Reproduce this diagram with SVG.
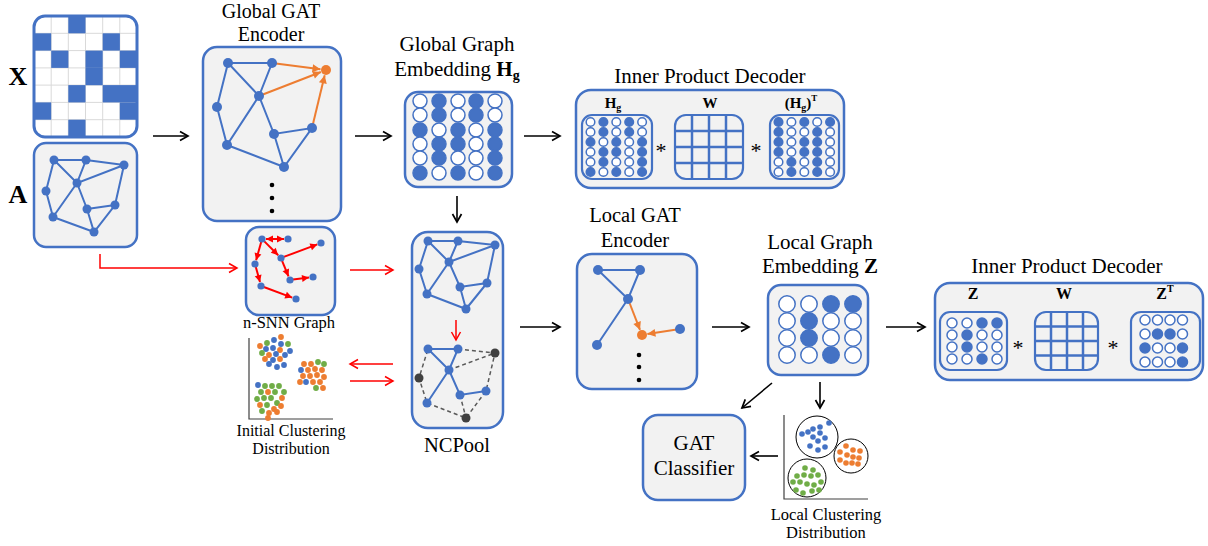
<svg xmlns="http://www.w3.org/2000/svg" width="1208" height="546" viewBox="0 0 1208 546">
<style>
.box{fill:#f2f2f2;stroke:#4472c4;stroke-width:2.5}
.sub{fill:#f2f2f2;stroke:#4472c4;stroke-width:2.2}
.ed{stroke:#4472c4;stroke-width:2;fill:none}
.nd{fill:#4472c4}
.on{fill:#ed7d31}
.oe{stroke:#ed7d31;stroke-width:2;fill:none;marker-end:url(#ao)}
.gd{stroke:#595959;stroke-width:1.5;stroke-dasharray:4 3;fill:none}
.gn{fill:#404040}
.re{stroke:#ff0000;stroke-width:2;fill:none;marker-end:url(#ar)}
.rc{stroke:#ff0000;stroke-width:1.5;fill:none;marker-end:url(#arc)}
.bk{stroke:#000;stroke-width:1.6;fill:none;marker-end:url(#ab)}
.e{fill:#fff;stroke:#4472c4;stroke-width:1.5}
.f{fill:#4472c4;stroke:#4472c4;stroke-width:1.5}
.t{font-family:'Liberation Serif','Times New Roman',serif;fill:#000;text-anchor:middle}
.tb{font-family:'Liberation Serif','Times New Roman',serif;font-weight:bold;fill:#000;text-anchor:middle}
.b{fill:#4472c4}.o{fill:#ed7d31}.g{fill:#70ad47}
.cl{fill:none;stroke:#000;stroke-width:1}
.ax{stroke:#404040;stroke-width:1.2;fill:none}
.grid{stroke:#4472c4;stroke-width:2.5}
</style>
<defs>
<marker id="ab" markerUnits="userSpaceOnUse" markerWidth="12" markerHeight="12" refX="9" refY="5" orient="auto" overflow="visible"><path d="M1,0.5 L9,5 L1,9.5" fill="none" stroke="#000" stroke-width="1.7"/></marker>
<marker id="arc" markerUnits="userSpaceOnUse" markerWidth="12" markerHeight="12" refX="9" refY="5" orient="auto" overflow="visible"><path d="M1,0.5 L9,5 L1,9.5" fill="none" stroke="#ff0000" stroke-width="1.5"/></marker>
<marker id="ar" markerUnits="userSpaceOnUse" markerWidth="8" markerHeight="8" refX="7" refY="3.5" orient="auto-start-reverse" overflow="visible"><path d="M0,0 L7,3.5 L0,7 z" fill="#ff0000"/></marker>
<marker id="ao" markerUnits="userSpaceOnUse" markerWidth="10" markerHeight="10" refX="8" refY="4" orient="auto" overflow="visible"><path d="M0,0 L8,4 L0,8 z" fill="#ed7d31"/></marker>
<clipPath id="xclip"><rect x="34" y="16" width="103" height="121" rx="11"/></clipPath>
</defs>

<g id="connectors">
<line class="bk" x1="153" y1="136" x2="188" y2="136"/>
<line class="bk" x1="355" y1="136" x2="391" y2="136"/>
<line class="bk" x1="524" y1="136" x2="560" y2="136"/>
<line class="bk" x1="457" y1="196" x2="457" y2="222"/>
<path class="rc" d="M100,254 V268 H237"/>
<line class="rc" x1="350" y1="270" x2="393" y2="270"/>
<line class="rc" x1="393" y1="364" x2="350" y2="364"/>
<line class="rc" x1="350" y1="381" x2="393" y2="381"/>
<line class="bk" x1="520" y1="327" x2="560" y2="327"/>
<line class="bk" x1="712" y1="327" x2="749" y2="327"/>
<line class="bk" x1="886" y1="327" x2="925" y2="327"/>
<line class="bk" x1="772" y1="383" x2="742" y2="408"/>
<line class="bk" x1="820" y1="382" x2="820" y2="408"/>
<line class="bk" x1="778" y1="456" x2="751" y2="456"/>
</g>

<g id="X">
<text class="tb" x="18" y="85" font-size="26">X</text>
<g clip-path="url(#xclip)">
<rect x="34" y="16" width="103" height="121" fill="#fff"/>
<g stroke="#d9d9d9" stroke-width="1">
<line x1="51.2" y1="16" x2="51.2" y2="137"/><line x1="68.3" y1="16" x2="68.3" y2="137"/><line x1="85.5" y1="16" x2="85.5" y2="137"/><line x1="102.7" y1="16" x2="102.7" y2="137"/><line x1="119.8" y1="16" x2="119.8" y2="137"/>
<line x1="34" y1="33.3" x2="137" y2="33.3"/><line x1="34" y1="50.6" x2="137" y2="50.6"/><line x1="34" y1="67.9" x2="137" y2="67.9"/><line x1="34" y1="85.1" x2="137" y2="85.1"/><line x1="34" y1="102.4" x2="137" y2="102.4"/><line x1="34" y1="119.7" x2="137" y2="119.7"/>
</g>
<g fill="#4472c4">
<rect x="68.3" y="16" width="17.2" height="17.3"/>
<rect x="34" y="33.3" width="17.2" height="17.3"/><rect x="102.7" y="33.3" width="17.2" height="17.3"/>
<rect x="51.2" y="50.6" width="17.2" height="17.3"/><rect x="85.5" y="50.6" width="17.2" height="17.3"/><rect x="119.8" y="50.6" width="17.2" height="17.3"/>
<rect x="85.5" y="67.9" width="17.2" height="17.3"/>
<rect x="68.3" y="85.1" width="17.2" height="17.3"/><rect x="102.7" y="85.1" width="34.3" height="17.3"/>
<rect x="34" y="102.4" width="17.2" height="17.3"/><rect x="119.8" y="102.4" width="17.2" height="17.3"/>
<rect x="68.3" y="119.7" width="17.2" height="17.3"/>
</g>
</g>
<rect x="34" y="16" width="103" height="121" rx="11" fill="none" stroke="#4472c4" stroke-width="3"/>
</g>

<g id="A">
<text class="tb" x="18" y="203" font-size="26">A</text>
<rect class="box" x="34" y="143" width="103" height="104" rx="12"/>
<path class="ed" d="M54,160 L86,160 L77,183 Z M54,160 L46,191 L53,217 L77,183 L124,165 L86,160 M124,165 L115,205 L94,232 L87,209 L77,183 M87,209 L115,205 M53,217 L94,232"/>
<g class="nd"><circle cx="54" cy="160" r="4.5"/><circle cx="86" cy="160" r="4.5"/><circle cx="124" cy="165" r="4.5"/><circle cx="77" cy="183" r="4.5"/><circle cx="46" cy="191" r="4.5"/><circle cx="115" cy="205" r="4.5"/><circle cx="87" cy="209" r="4.5"/><circle cx="53" cy="217" r="4.5"/><circle cx="94" cy="232" r="4.5"/></g>
</g>

<g id="global-gat">
<text class="t" x="271" y="18" font-size="20">Global GAT</text>
<text class="t" x="271" y="41" font-size="20">Encoder</text>
<rect class="box" x="203" y="47" width="138" height="174" rx="14"/>
<path class="ed" d="M228,63 L272,63 L259,96 Z M228,63 L217,107 L227,145 L259,96 L274,134 L312,128 L284,167 L227,145 M274,134 L284,167"/>
<line class="oe" x1="272" y1="63" x2="320.5" y2="69.3"/>
<line class="oe" x1="259" y1="96" x2="320.9" y2="72"/>
<line class="oe" x1="312" y1="128" x2="324.7" y2="75.3"/>
<g class="nd"><circle cx="228" cy="63" r="5"/><circle cx="272" cy="63" r="5"/><circle cx="259" cy="96" r="5"/><circle cx="217" cy="107" r="5"/><circle cx="312" cy="128" r="5"/><circle cx="274" cy="134" r="5"/><circle cx="227" cy="145" r="5"/><circle cx="284" cy="167" r="5"/></g>
<circle class="on" cx="326" cy="70" r="5"/>
<g fill="#000"><circle cx="272" cy="185" r="2.3"/><circle cx="272" cy="198" r="2.3"/><circle cx="272" cy="211" r="2.3"/></g>
</g>

<g id="global-embedding">
<text class="t" x="457" y="51" font-size="21">Global Graph</text>
<text class="t" x="457" y="76" font-size="21">Embedding <tspan font-weight="bold">H</tspan><tspan font-weight="bold" font-size="14" dy="4">g</tspan></text>
<rect class="box" x="405" y="92" width="107" height="95" rx="13"/>
<g>
<circle class="e" cx="420" cy="101" r="7"/><circle class="f" cx="439" cy="101" r="7"/><circle class="e" cx="458" cy="101" r="7"/><circle class="f" cx="476" cy="101" r="7"/><circle class="e" cx="495" cy="101" r="7"/>
<circle class="e" cx="420" cy="115" r="7"/><circle class="f" cx="439" cy="115" r="7"/><circle class="e" cx="458" cy="115" r="7"/><circle class="f" cx="476" cy="115" r="7"/><circle class="e" cx="495" cy="115" r="7"/>
<circle class="f" cx="420" cy="130" r="7"/><circle class="e" cx="439" cy="130" r="7"/><circle class="f" cx="458" cy="130" r="7"/><circle class="e" cx="476" cy="130" r="7"/><circle class="f" cx="495" cy="130" r="7"/>
<circle class="e" cx="420" cy="144" r="7"/><circle class="f" cx="439" cy="144" r="7"/><circle class="f" cx="458" cy="144" r="7"/><circle class="e" cx="476" cy="144" r="7"/><circle class="f" cx="495" cy="144" r="7"/>
<circle class="e" cx="420" cy="158" r="7"/><circle class="f" cx="439" cy="158" r="7"/><circle class="e" cx="458" cy="158" r="7"/><circle class="e" cx="476" cy="158" r="7"/><circle class="f" cx="495" cy="158" r="7"/>
<circle class="f" cx="420" cy="173" r="7"/><circle class="e" cx="439" cy="173" r="7"/><circle class="f" cx="458" cy="173" r="7"/><circle class="e" cx="476" cy="173" r="7"/><circle class="f" cx="495" cy="173" r="7"/>
</g>
</g>

<g id="decoder-top">
<text class="t" x="710" y="83" font-size="21">Inner Product Decoder</text>
<rect class="box" x="576" y="90" width="268" height="98" rx="15"/>
<text class="tb" x="613" y="108" font-size="15">H<tspan font-size="10" dy="3">g</tspan></text>
<text class="tb" x="710" y="108" font-size="15">W</text>
<text class="tb" x="801" y="108" font-size="15">(H<tspan font-size="10" dy="3">g</tspan><tspan dy="-3">)</tspan><tspan font-size="9" dy="-7">T</tspan></text>
<rect class="sub" x="582" y="115" width="70" height="64" rx="10"/>
<g>
<circle class="e" cx="590.5" cy="122" r="4.3"/><circle class="f" cx="603.4" cy="122" r="4.3"/><circle class="e" cx="616.3" cy="122" r="4.3"/><circle class="f" cx="629.2" cy="122" r="4.3"/><circle class="e" cx="642.1" cy="122" r="4.3"/>
<circle class="e" cx="590.5" cy="132" r="4.3"/><circle class="f" cx="603.4" cy="132" r="4.3"/><circle class="e" cx="616.3" cy="132" r="4.3"/><circle class="f" cx="629.2" cy="132" r="4.3"/><circle class="e" cx="642.1" cy="132" r="4.3"/>
<circle class="f" cx="590.5" cy="142" r="4.3"/><circle class="e" cx="603.4" cy="142" r="4.3"/><circle class="f" cx="616.3" cy="142" r="4.3"/><circle class="e" cx="629.2" cy="142" r="4.3"/><circle class="f" cx="642.1" cy="142" r="4.3"/>
<circle class="e" cx="590.5" cy="152" r="4.3"/><circle class="f" cx="603.4" cy="152" r="4.3"/><circle class="f" cx="616.3" cy="152" r="4.3"/><circle class="e" cx="629.2" cy="152" r="4.3"/><circle class="f" cx="642.1" cy="152" r="4.3"/>
<circle class="e" cx="590.5" cy="162" r="4.3"/><circle class="f" cx="603.4" cy="162" r="4.3"/><circle class="e" cx="616.3" cy="162" r="4.3"/><circle class="e" cx="629.2" cy="162" r="4.3"/><circle class="f" cx="642.1" cy="162" r="4.3"/>
<circle class="f" cx="590.5" cy="172" r="4.3"/><circle class="e" cx="603.4" cy="172" r="4.3"/><circle class="f" cx="616.3" cy="172" r="4.3"/><circle class="e" cx="629.2" cy="172" r="4.3"/><circle class="f" cx="642.1" cy="172" r="4.3"/>
</g>
<text class="t" x="661" y="158" font-size="22">*</text>
<rect class="sub" x="675" y="115" width="68" height="64" rx="11"/>
<g class="grid"><line x1="692" y1="115" x2="692" y2="179"/><line x1="709" y1="115" x2="709" y2="179"/><line x1="726" y1="115" x2="726" y2="179"/><line x1="675" y1="131" x2="743" y2="131"/><line x1="675" y1="147" x2="743" y2="147"/><line x1="675" y1="163" x2="743" y2="163"/></g>
<text class="t" x="756" y="158" font-size="22">*</text>
<rect class="sub" x="770" y="115" width="69" height="64" rx="10"/>
<g>
<circle class="f" cx="778.5" cy="122" r="4.3"/><circle class="e" cx="791.4" cy="122" r="4.3"/><circle class="f" cx="804.3" cy="122" r="4.3"/><circle class="e" cx="817.2" cy="122" r="4.3"/><circle class="f" cx="830.1" cy="122" r="4.3"/>
<circle class="f" cx="778.5" cy="132" r="4.3"/><circle class="e" cx="791.4" cy="132" r="4.3"/><circle class="e" cx="804.3" cy="132" r="4.3"/><circle class="f" cx="817.2" cy="132" r="4.3"/><circle class="e" cx="830.1" cy="132" r="4.3"/>
<circle class="f" cx="778.5" cy="142" r="4.3"/><circle class="e" cx="791.4" cy="142" r="4.3"/><circle class="f" cx="804.3" cy="142" r="4.3"/><circle class="f" cx="817.2" cy="142" r="4.3"/><circle class="e" cx="830.1" cy="142" r="4.3"/>
<circle class="f" cx="778.5" cy="152" r="4.3"/><circle class="e" cx="791.4" cy="152" r="4.3"/><circle class="f" cx="804.3" cy="152" r="4.3"/><circle class="f" cx="817.2" cy="152" r="4.3"/><circle class="e" cx="830.1" cy="152" r="4.3"/>
<circle class="e" cx="778.5" cy="162" r="4.3"/><circle class="f" cx="791.4" cy="162" r="4.3"/><circle class="e" cx="804.3" cy="162" r="4.3"/><circle class="f" cx="817.2" cy="162" r="4.3"/><circle class="e" cx="830.1" cy="162" r="4.3"/>
<circle class="e" cx="778.5" cy="172" r="4.3"/><circle class="f" cx="791.4" cy="172" r="4.3"/><circle class="e" cx="804.3" cy="172" r="4.3"/><circle class="f" cx="817.2" cy="172" r="4.3"/><circle class="e" cx="830.1" cy="172" r="4.3"/>
</g>
</g>

<g id="nsnn">
<rect class="box" x="246" y="227" width="89" height="88" rx="13"/>
<line class="re" marker-start="url(#ar)" x1="266" y1="239" x2="284" y2="239"/>
<line class="re" x1="261.2" y1="241.9" x2="256.1" y2="260.2"/>
<line class="re" x1="264.1" y1="241.1" x2="278.2" y2="255.2"/>
<line class="re" x1="283.8" y1="256.9" x2="317.3" y2="244.4"/>
<line class="re" x1="282.1" y1="260.8" x2="288.5" y2="276.3"/>
<line class="re" x1="293" y1="279.6" x2="309" y2="277.5"/>
<line class="re" x1="255.8" y1="266.9" x2="260" y2="282.1"/>
<line class="re" x1="263.8" y1="287" x2="292.2" y2="297.6"/>
<g class="nd"><circle cx="262" cy="239" r="3.6"/><circle cx="288" cy="239" r="3.6"/><circle cx="321" cy="243" r="3.6"/><circle cx="281" cy="258" r="3.6"/><circle cx="255" cy="264" r="3.6"/><circle cx="290" cy="280" r="3.6"/><circle cx="313" cy="277" r="3.6"/><circle cx="261" cy="286" r="3.6"/><circle cx="296" cy="299" r="3.6"/></g>
<text class="t" x="289" y="328" font-size="16.5">n-SNN Graph</text>
</g>

<g id="initial-clustering">
<path class="ax" d="M249,338 V419 H333"/>
<g>
<circle class="o" cx="281" cy="337" r="2.9"/><circle class="b" cx="274" cy="340" r="2.9"/><circle class="g" cx="267" cy="343" r="2.9"/><circle class="o" cx="260" cy="346" r="2.9"/><circle class="b" cx="281" cy="344" r="2.9"/><circle class="g" cx="288" cy="344" r="2.9"/><circle class="b" cx="266" cy="349" r="2.9"/><circle class="b" cx="273" cy="348" r="2.9"/><circle class="o" cx="280" cy="350" r="2.9"/><circle class="g" cx="262" cy="353" r="2.9"/><circle class="o" cx="269" cy="355" r="2.9"/><circle class="b" cx="276" cy="354" r="2.9"/><circle class="b" cx="285" cy="355" r="2.9"/><circle class="o" cx="265" cy="359" r="2.9"/><circle class="b" cx="273" cy="360" r="2.9"/><circle class="o" cx="280" cy="359" r="2.9"/><circle class="b" cx="269" cy="364" r="2.9"/><circle class="b" cx="277" cy="367" r="2.9"/><circle class="b" cx="284" cy="365" r="2.9"/><circle class="b" cx="290" cy="351" r="2.9"/>
<circle class="o" cx="304" cy="364" r="2.9"/><circle class="o" cx="311" cy="364" r="2.9"/><circle class="g" cx="318" cy="362" r="2.9"/><circle class="g" cx="324" cy="364" r="2.9"/><circle class="b" cx="301" cy="370" r="2.9"/><circle class="o" cx="308" cy="370" r="2.9"/><circle class="o" cx="315" cy="369" r="2.9"/><circle class="o" cx="322" cy="370" r="2.9"/><circle class="o" cx="303" cy="376" r="2.9"/><circle class="o" cx="310" cy="376" r="2.9"/><circle class="o" cx="317" cy="375" r="2.9"/><circle class="o" cx="324" cy="377" r="2.9"/><circle class="b" cx="306" cy="382" r="2.9"/><circle class="o" cx="313" cy="382" r="2.9"/><circle class="o" cx="320" cy="382" r="2.9"/><circle class="o" cx="300" cy="382" r="2.9"/><circle class="g" cx="316" cy="388" r="2.9"/><circle class="o" cx="323" cy="388" r="2.9"/>
<circle class="b" cx="258" cy="385" r="2.9"/><circle class="g" cx="265" cy="386" r="2.9"/><circle class="g" cx="272" cy="386" r="2.9"/><circle class="g" cx="279" cy="386" r="2.9"/><circle class="g" cx="284" cy="392" r="2.9"/><circle class="g" cx="261" cy="392" r="2.9"/><circle class="o" cx="268" cy="392" r="2.9"/><circle class="g" cx="275" cy="392" r="2.9"/><circle class="o" cx="282" cy="398" r="2.9"/><circle class="g" cx="257" cy="399" r="2.9"/><circle class="g" cx="264" cy="398" r="2.9"/><circle class="g" cx="271" cy="398" r="2.9"/><circle class="g" cx="277" cy="403" r="2.9"/><circle class="o" cx="260" cy="405" r="2.9"/><circle class="g" cx="267" cy="405" r="2.9"/><circle class="o" cx="274" cy="409" r="2.9"/><circle class="o" cx="281" cy="406" r="2.9"/><circle class="g" cx="262" cy="411" r="2.9"/><circle class="o" cx="269" cy="413" r="2.9"/><circle class="o" cx="277" cy="412" r="2.9"/><circle class="o" cx="268" cy="418" r="2.9"/>
</g>
<text class="t" x="291" y="436" font-size="16">Initial Clustering</text>
<text class="t" x="291" y="454" font-size="16">Distribution</text>
</g>

<g id="ncpool">
<rect class="box" x="412" y="232" width="91" height="196" rx="16"/>
<path class="ed" d="M428,241 L458,241 L449,262 Z M458,241 L495,245 L449,262 M428,241 L419,269 L427,294 L449,262 L460,287 L487,283 L495,245 M460,287 L466,309 L427,294 M487,283 L466,309"/>
<g class="nd"><circle cx="428" cy="241" r="4.5"/><circle cx="458" cy="241" r="4.5"/><circle cx="495" cy="245" r="4.5"/><circle cx="449" cy="262" r="4.5"/><circle cx="419" cy="269" r="4.5"/><circle cx="487" cy="283" r="4.5"/><circle cx="460" cy="287" r="4.5"/><circle cx="427" cy="294" r="4.5"/><circle cx="466" cy="309" r="4.5"/></g>
<line x1="456" y1="320" x2="456" y2="340" stroke="#ff0000" stroke-width="1.5" marker-end="url(#arc)"/>
<path class="gd" d="M458,349 L495,353 L486,391 L466,418 L427,403 L419,378 L428,349 M449,370 L495,353 M460,395 L466,418"/>
<path class="ed" d="M428,349 L458,349 L449,370 Z M449,370 L427,403 M449,370 L460,395 L486,391"/>
<g class="nd"><circle cx="428" cy="349" r="4.5"/><circle cx="458" cy="349" r="4.5"/><circle cx="449" cy="370" r="4.5"/><circle cx="460" cy="395" r="4.5"/><circle cx="486" cy="391" r="4.5"/><circle cx="427" cy="403" r="4.5"/></g>
<g class="gn"><circle cx="495" cy="353" r="4.5"/><circle cx="419" cy="378" r="4.5"/><circle cx="466" cy="418" r="4.5"/></g>
<text class="t" x="457" y="452" font-size="20.5">NCPool</text>
</g>

<g id="local-gat">
<text class="t" x="635" y="222" font-size="20.5">Local GAT</text>
<text class="t" x="635" y="247" font-size="20.5">Encoder</text>
<rect class="box" x="577" y="254" width="120" height="135" rx="15"/>
<path class="ed" d="M598,270 L640,270 L628,299 Z M628,299 L597,345"/>
<line class="oe" x1="628" y1="299" x2="640" y2="329.9"/>
<line class="oe" x1="680" y1="329" x2="647.4" y2="334.1"/>
<g class="nd"><circle cx="598" cy="270" r="5"/><circle cx="640" cy="270" r="5"/><circle cx="628" cy="299" r="5"/><circle cx="597" cy="345" r="5"/><circle cx="680" cy="329" r="5"/></g>
<circle class="on" cx="642" cy="335" r="5"/>
<g fill="#000"><circle cx="639" cy="355" r="2.3"/><circle cx="639" cy="367" r="2.3"/><circle cx="639" cy="380" r="2.3"/></g>
</g>

<g id="local-embedding">
<text class="t" x="820" y="249" font-size="21">Local Graph</text>
<text class="t" x="820" y="273" font-size="21">Embedding <tspan font-weight="bold">Z</tspan></text>
<rect class="box" x="768" y="285" width="100" height="90" rx="13"/>
<g>
<circle class="e" cx="787" cy="304" r="8.2"/><circle class="e" cx="809" cy="304" r="8.2"/><circle class="f" cx="831" cy="304" r="8.2"/><circle class="f" cx="853" cy="304" r="8.2"/>
<circle class="e" cx="787" cy="321" r="8.2"/><circle class="f" cx="809" cy="321" r="8.2"/><circle class="e" cx="831" cy="321" r="8.2"/><circle class="e" cx="853" cy="321" r="8.2"/>
<circle class="e" cx="787" cy="338" r="8.2"/><circle class="f" cx="809" cy="338" r="8.2"/><circle class="e" cx="831" cy="338" r="8.2"/><circle class="e" cx="853" cy="338" r="8.2"/>
<circle class="e" cx="787" cy="355" r="8.2"/><circle class="e" cx="809" cy="355" r="8.2"/><circle class="f" cx="831" cy="355" r="8.2"/><circle class="e" cx="853" cy="355" r="8.2"/>
</g>
</g>

<g id="decoder-bottom">
<text class="t" x="1067" y="273" font-size="21">Inner Product Decoder</text>
<rect class="box" x="935" y="283" width="268" height="97" rx="15"/>
<text class="tb" x="973" y="299" font-size="16">Z</text>
<text class="tb" x="1064" y="299" font-size="16">W</text>
<text class="tb" x="1165" y="299" font-size="16">Z<tspan font-size="10" dy="-7">T</tspan></text>
<rect class="sub" x="940" y="312" width="67" height="58" rx="10"/>
<g>
<circle class="e" cx="952" cy="323" r="5"/><circle class="e" cx="967" cy="323" r="5"/><circle class="f" cx="982" cy="323" r="5"/><circle class="f" cx="997" cy="323" r="5"/>
<circle class="e" cx="952" cy="335" r="5"/><circle class="f" cx="967" cy="335" r="5"/><circle class="e" cx="982" cy="335" r="5"/><circle class="e" cx="997" cy="335" r="5"/>
<circle class="e" cx="952" cy="347" r="5"/><circle class="f" cx="967" cy="347" r="5"/><circle class="e" cx="982" cy="347" r="5"/><circle class="e" cx="997" cy="347" r="5"/>
<circle class="e" cx="952" cy="359" r="5"/><circle class="e" cx="967" cy="359" r="5"/><circle class="f" cx="982" cy="359" r="5"/><circle class="e" cx="997" cy="359" r="5"/>
</g>
<text class="t" x="1018" y="355" font-size="22">*</text>
<rect class="sub" x="1035" y="312" width="63" height="58" rx="11"/>
<g class="grid"><line x1="1051" y1="312" x2="1051" y2="370"/><line x1="1067" y1="312" x2="1067" y2="370"/><line x1="1083" y1="312" x2="1083" y2="370"/><line x1="1035" y1="326.5" x2="1098" y2="326.5"/><line x1="1035" y1="341" x2="1098" y2="341"/><line x1="1035" y1="355.5" x2="1098" y2="355.5"/></g>
<text class="t" x="1113" y="355" font-size="22">*</text>
<rect class="sub" x="1131" y="312" width="69" height="58" rx="10"/>
<g>
<circle class="e" cx="1145" cy="320" r="5"/><circle class="e" cx="1157.5" cy="320" r="5"/><circle class="e" cx="1170" cy="320" r="5"/><circle class="e" cx="1182.5" cy="320" r="5"/>
<circle class="e" cx="1145" cy="334" r="5"/><circle class="f" cx="1157.5" cy="334" r="5"/><circle class="f" cx="1170" cy="334" r="5"/><circle class="e" cx="1182.5" cy="334" r="5"/>
<circle class="f" cx="1145" cy="348" r="5"/><circle class="e" cx="1157.5" cy="348" r="5"/><circle class="e" cx="1170" cy="348" r="5"/><circle class="f" cx="1182.5" cy="348" r="5"/>
<circle class="e" cx="1145" cy="362" r="5"/><circle class="e" cx="1157.5" cy="362" r="5"/><circle class="e" cx="1170" cy="362" r="5"/><circle class="f" cx="1182.5" cy="362" r="5"/>
</g>
</g>

<g id="gat-classifier">
<rect class="box" x="643" y="415" width="102" height="85" rx="15"/>
<text class="t" x="694" y="450" font-size="21">GAT</text>
<text class="t" x="694" y="475" font-size="21">Classifier</text>
</g>

<g id="local-clustering">
<path class="ax" d="M784,415 V499 H868"/>
<circle class="cl" cx="817" cy="437" r="21"/>
<circle class="cl" cx="851" cy="456" r="17"/>
<circle class="cl" cx="807" cy="478" r="19"/>
<g>
<circle class="b" cx="829" cy="423" r="2.8"/><circle class="b" cx="820" cy="427" r="2.8"/><circle class="b" cx="808" cy="432" r="2.8"/><circle class="b" cx="813" cy="429" r="2.8"/><circle class="b" cx="802" cy="434" r="2.8"/><circle class="b" cx="820" cy="433" r="2.8"/><circle class="b" cx="825" cy="438" r="2.8"/><circle class="b" cx="813" cy="437" r="2.8"/><circle class="b" cx="818" cy="441" r="2.8"/><circle class="b" cx="810" cy="446" r="2.8"/><circle class="b" cx="818" cy="450" r="2.8"/><circle class="b" cx="825" cy="447" r="2.8"/>
<circle class="o" cx="846" cy="446" r="2.8"/><circle class="o" cx="853" cy="450" r="2.8"/><circle class="o" cx="860" cy="451" r="2.8"/><circle class="o" cx="840" cy="452" r="2.8"/><circle class="o" cx="847" cy="455" r="2.8"/><circle class="o" cx="853" cy="457" r="2.8"/><circle class="o" cx="859" cy="458" r="2.8"/><circle class="o" cx="840" cy="460" r="2.8"/><circle class="o" cx="846" cy="463" r="2.8"/><circle class="o" cx="852" cy="463" r="2.8"/><circle class="o" cx="858" cy="464" r="2.8"/>
<circle class="g" cx="805" cy="468" r="2.8"/><circle class="g" cx="813" cy="470" r="2.8"/><circle class="g" cx="818" cy="475" r="2.8"/><circle class="g" cx="811" cy="476" r="2.8"/><circle class="g" cx="804" cy="475" r="2.8"/><circle class="g" cx="797" cy="476" r="2.8"/><circle class="g" cx="793" cy="482" r="2.8"/><circle class="g" cx="800" cy="482" r="2.8"/><circle class="g" cx="807" cy="484" r="2.8"/><circle class="g" cx="814" cy="485" r="2.8"/><circle class="g" cx="821" cy="482" r="2.8"/><circle class="g" cx="796" cy="490" r="2.8"/><circle class="g" cx="803" cy="493" r="2.8"/><circle class="g" cx="812" cy="491" r="2.8"/><circle class="g" cx="819" cy="490" r="2.8"/>
</g>
<text class="t" x="826" y="520" font-size="16.5">Local Clustering</text>
<text class="t" x="826" y="538" font-size="16.5">Distribution</text>
</g>
</svg>
